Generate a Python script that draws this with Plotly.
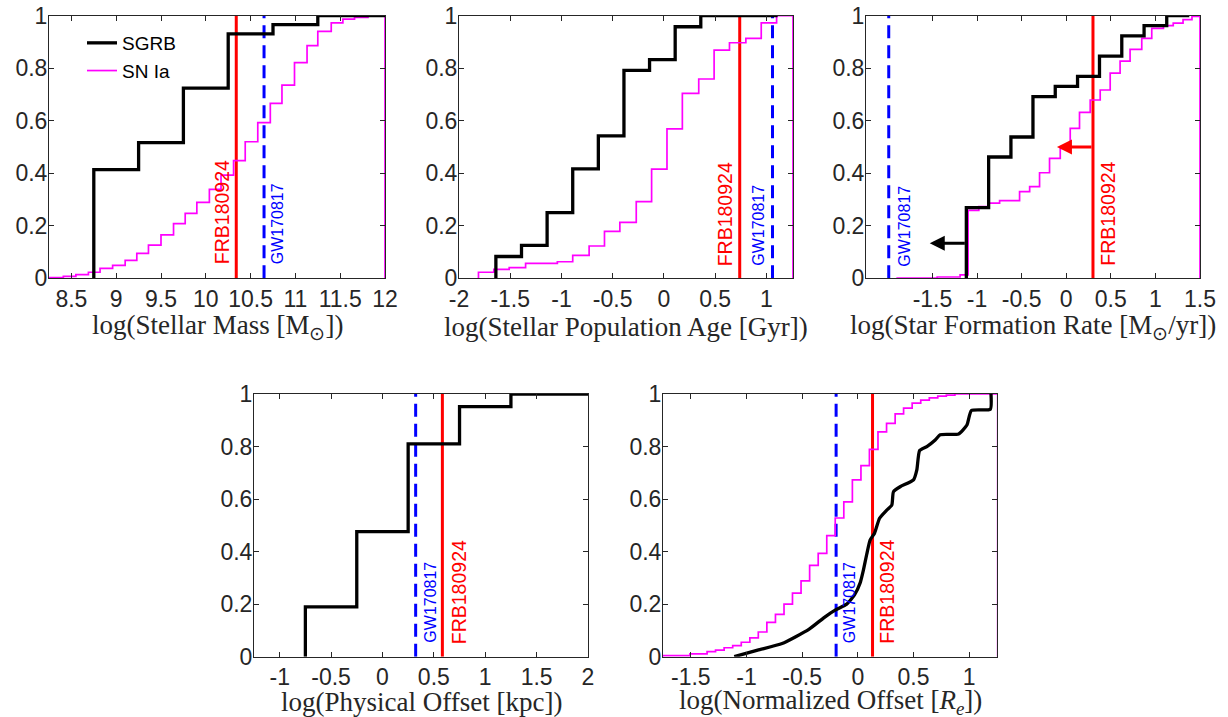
import plotly.graph_objects as go

# ---------------- data ----------------
# Panel 1: log(Stellar Mass)
mass_sgrb_edges = [8.75, 9.25, 9.75, 10.25, 10.75, 11.25]
mass_sgrb_cdf = [0.414, 0.517, 0.724, 0.931, 0.966, 1.0]
mass_sgrb_end = 12.0
mass_snia_edges = [8.25, 8.41, 8.55, 8.69, 8.82, 8.96, 9.10, 9.23, 9.36, 9.50,
                   9.64, 9.77, 9.90, 10.04, 10.17, 10.31, 10.44, 10.58, 10.72, 10.85,
                   10.99, 11.13, 11.25, 11.40, 11.53, 11.66, 11.81]
mass_snia_cdf = [0.003, 0.007, 0.014, 0.023, 0.038, 0.049, 0.068, 0.095, 0.126, 0.165,
                 0.208, 0.247, 0.289, 0.339, 0.393, 0.448, 0.52, 0.593, 0.666, 0.736,
                 0.821, 0.886, 0.94, 0.973, 0.987, 0.994, 1.0]
mass_snia_end = 12.0
mass_frb = 10.34
mass_gw = 10.65
mass_ticks = [8.5, 9, 9.5, 10, 10.5, 11, 11.5, 12]

# Panel 2: log(Stellar Population Age)
age_sgrb_edges = [-1.64, -1.39, -1.14, -0.89, -0.64, -0.39, -0.14, 0.11, 0.36]
age_sgrb_cdf = [0.083, 0.125, 0.25, 0.417, 0.542, 0.792, 0.833, 0.958, 1.0]
age_sgrb_end = 1.11
age_snia_edges = [-1.81, -1.66, -1.51, -1.35, -1.04, -0.89, -0.73, -0.58, -0.43, -0.27,
                  -0.12, 0.03, 0.18, 0.34, 0.49, 0.64, 0.80, 0.95, 1.10]
age_snia_cdf = [0.023, 0.034, 0.041, 0.057, 0.063, 0.087, 0.123, 0.179, 0.213, 0.292,
                0.416, 0.569, 0.704, 0.759, 0.869, 0.897, 0.914, 0.973, 1.0]
age_snia_end = 1.26
age_frb = 0.74
age_gw = 1.06
age_ticks = [-2, -1.5, -1, -0.5, 0, 0.5, 1]

# Panel 3: log(Star Formation Rate)
sfr_sgrb_edges = [-1.12, -0.87, -0.62, -0.373, -0.123, 0.127, 0.373, 0.623, 0.873, 1.127]
sfr_sgrb_cdf = [0.269, 0.462, 0.538, 0.692, 0.731, 0.769, 0.846, 0.923, 0.962, 1.0]
sfr_sgrb_end = 1.38
sfr_snia_edges = [-1.895, -1.447, -1.19, -1.10, -0.98, -0.87, -0.747, -0.523, -0.41, -0.299,
                  -0.187, -0.067, 0.045, 0.149, 0.269, 0.381, 0.493, 0.604, 0.716, 0.847,
                  0.959, 1.09, 1.2, 1.31, 1.41]
sfr_snia_cdf = [0.001, 0.005, 0.013, 0.259, 0.273, 0.286, 0.296, 0.33, 0.349, 0.402,
                0.457, 0.495, 0.571, 0.632, 0.679, 0.717, 0.781, 0.827, 0.872, 0.914,
                0.952, 0.962, 0.972, 0.985, 0.997]
sfr_snia_end = 1.5
sfr_frb = 0.30
sfr_gw = -1.99
sfr_sgrb_limit = [-1.12, -1.53, 0.133]   # tail x, tip x, y
sfr_frb_limit = [0.30, -0.104, 0.5]
sfr_ticks = [-1.5, -1, -0.5, 0, 0.5, 1, 1.5]

# Panel 4: log(Physical Offset)
off_sgrb_edges = [-0.75, -0.25, 0.25, 0.75, 1.25]
off_sgrb_cdf = [0.19, 0.476, 0.81, 0.952, 1.0]
off_sgrb_end = 2.0
off_frb = 0.583
off_gw = 0.323
off_ticks = [-1, -0.5, 0, 0.5, 1, 1.5, 2]

# Panel 5: log(Normalized Offset)
norm_sgrb_x = [-1.11, -0.9, -0.68, -0.44, -0.3, -0.2, -0.1, -0.03, 0.02, 0.05, 0.08, 0.11,
               0.15, 0.195, 0.26, 0.305, 0.32, 0.38, 0.5, 0.53, 0.555, 0.62, 0.695, 0.74,
               0.905, 0.98, 1.02, 1.19, 1.196]
norm_sgrb_y = [0.0, 0.025, 0.05, 0.104, 0.15, 0.178, 0.2, 0.235, 0.28, 0.33, 0.39, 0.444,
               0.47, 0.527, 0.558, 0.577, 0.628, 0.647, 0.673, 0.711, 0.785, 0.8, 0.825, 0.845,
               0.848, 0.882, 0.937, 0.942, 1.0]
norm_snia_edges = [-1.75, -1.508, -1.354, -1.278, -1.201, -1.124, -1.047, -0.970, -0.894, -0.817,
                   -0.740, -0.663, -0.587, -0.510, -0.433, -0.356, -0.279, -0.203, -0.126, -0.049,
                   0.028, 0.104, 0.181, 0.258, 0.335, 0.411, 0.488, 0.565, 0.642, 0.718,
                   0.795, 0.872]
norm_snia_cdf = [0.004, 0.011, 0.019, 0.025, 0.034, 0.042, 0.055, 0.072, 0.094, 0.131,
                 0.161, 0.2, 0.242, 0.289, 0.348, 0.393, 0.461, 0.528, 0.589, 0.673,
                 0.727, 0.789, 0.856, 0.888, 0.924, 0.946, 0.965, 0.977, 0.985, 0.992,
                 0.996, 1.0]
norm_snia_end = 1.256
norm_frb = 0.132
norm_gw = -0.195
norm_ticks = [-1.5, -1, -0.5, 0, 0.5, 1]

y_ticks = [0, 0.2, 0.4, 0.6, 0.8, 1]

# ---------------- styling ----------------
W, H = 1228, 717
SANS = "Liberation Sans, Arial, sans-serif"
SERIF = "Liberation Serif, Times New Roman, serif"
AXC = "#262626"
BLACK, MAGENTA, RED, BLUE = "#000000", "#FF00FF", "#FF0000", "#0000FF"


def hdom(x0, x1):
    return [x0 / W, x1 / W]


def vdom(ytop, ybot):
    return [1 - ybot / H, 1 - ytop / H]


panels = [
    # key, xdomain, ydomain, xrange, ticks, title, title centre (px from top)
    ("", hdom(49, 385), vdom(15.7, 278.3), [8.25, 12], mass_ticks,
     "log(Stellar Mass [M<sub>⊙</sub>])", 327),
    ("2", hdom(459, 793), vdom(15.7, 278.3), [-2, 1.26], age_ticks,
     "log(Stellar Population Age [Gyr])", 327),
    ("3", hdom(866, 1200), vdom(15.7, 278.3), [-2.245, 1.5], sfr_ticks,
     "log(Star Formation Rate [M<sub>⊙</sub>/yr])", 327),
    ("4", hdom(254, 588), vdom(394, 656.7), [-1.25, 2], off_ticks,
     "log(Physical Offset [kpc])", 702),
    ("5", hdom(663, 997), vdom(394, 656.7), [-1.75, 1.25], norm_ticks,
     "log(Normalized Offset [<i>R<sub>e</sub></i>])", 702),
]


def step_xy(edges, cdf, end, drop=False):
    xs = [edges[0]] + list(edges) + [end]
    ys = [0.0] + list(cdf) + [cdf[-1]]
    if drop:
        xs.append(end)
        ys.append(0.0)
    return xs, ys


fig = go.Figure()


def add_step(key, edges, cdf, end, color, width, name, legend, drop=False):
    xs, ys = step_xy(edges, cdf, end, drop)
    fig.add_trace(go.Scatter(
        x=xs, y=ys, mode="lines", line=dict(color=color, width=width, shape="hv"),
        name=name, showlegend=legend, xaxis="x" + key, yaxis="y" + key,
        hoverinfo="skip"))


def add_vline(key, xv, color, dash):
    fig.add_trace(go.Scatter(
        x=[xv, xv], y=[0, 1], mode="lines",
        line=dict(color=color, width=3, dash=dash),
        showlegend=False, xaxis="x" + key, yaxis="y" + key, hoverinfo="skip"))


def add_label(key, xv, yv, text, color, size):
    fig.add_annotation(
        x=xv, y=yv, xref="x" + key, yref="y" + key, text=text, showarrow=False,
        textangle=-90, xanchor="center", yanchor="middle",
        font=dict(family=SANS, size=size, color=color))


DASH = "13px,7px"

# Panel 1
add_vline("", mass_frb, RED, "solid")
add_vline("", mass_gw, BLUE, DASH)
add_step("", mass_snia_edges, mass_snia_cdf, mass_snia_end, MAGENTA, 1.7, "SN Ia", False, drop=True)
add_step("", mass_sgrb_edges, mass_sgrb_cdf, mass_sgrb_end, BLACK, 3.3, "SGRB", True)
# legend proxy for SN Ia so the order is SGRB then SN Ia
fig.add_trace(go.Scatter(x=[None], y=[None], mode="lines", line=dict(color=MAGENTA, width=1.7),
                         name="SN Ia", showlegend=True, xaxis="x", yaxis="y"))
add_label("", 10.19, 0.251, "FRB180924", RED, 19.5)
add_label("", 10.81, 0.207, "GW170817", BLUE, 16)

# Panel 2
add_vline("2", age_frb, RED, "solid")
add_vline("2", age_gw, BLUE, DASH)
add_step("2", age_snia_edges, age_snia_cdf, age_snia_end, MAGENTA, 1.7, "SN Ia", False, drop=True)
add_step("2", age_sgrb_edges, age_sgrb_cdf, age_sgrb_end, BLACK, 3.3, "SGRB", False)
add_label("2", 0.60, 0.245, "FRB180924", RED, 19.5)
add_label("2", 0.926, 0.203, "GW170817", BLUE, 16)

# Panel 3
add_vline("3", sfr_frb, RED, "solid")
add_vline("3", sfr_gw, BLUE, DASH)
add_step("3", sfr_snia_edges, sfr_snia_cdf, sfr_snia_end, MAGENTA, 1.7, "SN Ia", False, drop=True)
add_step("3", sfr_sgrb_edges, sfr_sgrb_cdf, sfr_sgrb_end, BLACK, 3.3, "SGRB", False)
add_label("3", 0.465, 0.245, "FRB180924", RED, 19.5)
add_label("3", -1.808, 0.2, "GW170817", BLUE, 16)
for (tail, tip, yv), col in ((sfr_sgrb_limit, BLACK), (sfr_frb_limit, RED)):
    fig.add_annotation(x=tip, y=yv, ax=tail, ay=yv, xref="x3", yref="y3", axref="x3", ayref="y3",
                       text="", showarrow=True, arrowhead=2, arrowsize=1, arrowwidth=3,
                       arrowcolor=col, standoff=0, startstandoff=0)

# Panel 4
add_vline("4", off_gw, BLUE, DASH)
add_vline("4", off_frb, RED, "solid")
add_step("4", off_sgrb_edges, off_sgrb_cdf, off_sgrb_end, BLACK, 3.3, "SGRB", False)
add_label("4", 0.466, 0.207, "GW170817", BLUE, 16)
add_label("4", 0.739, 0.247, "FRB180924", RED, 19.5)

# Panel 5
add_vline("5", norm_gw, BLUE, DASH)
add_vline("5", norm_frb, RED, "solid")
add_step("5", norm_snia_edges, norm_snia_cdf, norm_snia_end, MAGENTA, 1.7, "SN Ia", False, drop=True)
fig.add_trace(go.Scatter(x=norm_sgrb_x, y=norm_sgrb_y, mode="lines",
                         line=dict(color=BLACK, width=3.3, shape="spline", smoothing=0.5),
                         showlegend=False, xaxis="x5", yaxis="y5", hoverinfo="skip"))
add_label("5", -0.081, 0.207, "GW170817", BLUE, 16)
add_label("5", 0.261, 0.247, "FRB180924", RED, 19.5)

# ---------------- axes ----------------
layout = dict(
    width=W, height=H, margin=dict(l=0, r=0, t=0, b=0, pad=0, autoexpand=False),
    paper_bgcolor="white", plot_bgcolor="white",
    showlegend=True,
    legend=dict(x=82 / W, y=1 - 24 / H, xanchor="left", yanchor="top",
                bgcolor="rgba(0,0,0,0)", borderwidth=0,
                font=dict(family=SANS, size=19, color="#000000"),
                itemwidth=30, tracegroupgap=0),
)
for key, xd, yd, xr, ticks, title, ty in panels:
    layout["xaxis" + key] = dict(
        domain=xd, range=xr, anchor="y" + key, automargin=False,
        tickmode="array", tickvals=ticks, ticktext=[f"{v:g}" for v in ticks],
        ticks="inside", ticklen=5, tickwidth=1, tickcolor=AXC,
        showline=True, linecolor=AXC, linewidth=1, mirror="ticks",
        showgrid=False, zeroline=False,
        tickfont=dict(family=SANS, size=23, color=AXC),
    )
    layout["yaxis" + key] = dict(
        domain=yd, range=[0, 1], anchor="x" + key, automargin=False,
        tickmode="array", tickvals=y_ticks, ticktext=[f"{v:g}" for v in y_ticks],
        ticks="inside", ticklen=5, tickwidth=1, tickcolor=AXC,
        showline=True, linecolor=AXC, linewidth=1, mirror="ticks",
        showgrid=False, zeroline=False,
        tickfont=dict(family=SANS, size=23, color=AXC),
    )
    # axis title (placed explicitly so both rows sit at the same distance)
    fig.add_annotation(x=(xd[0] + xd[1]) / 2, y=1 - ty / H, xref="paper", yref="paper",
                       text=title, showarrow=False, xanchor="center", yanchor="middle",
                       font=dict(family=SERIF, size=27, color=AXC))
fig.update_layout(**layout)

try:
    fig.update_yaxes(ticklabelstandoff=-4)
except Exception:
    pass

fig.write_html("out.html", config={"displayModeBar": False},
               post_script="document.body.style.margin='0px';"
                           "document.body.style.overflow='hidden';")
